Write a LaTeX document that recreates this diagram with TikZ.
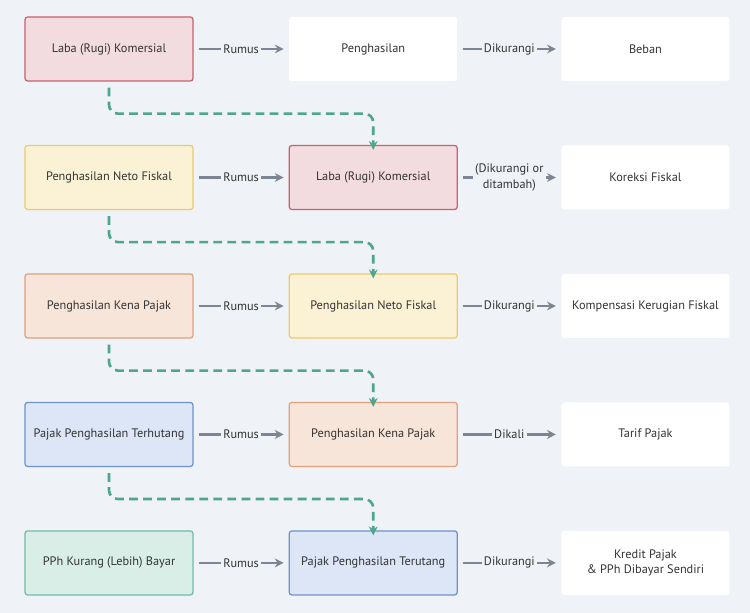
\documentclass[tikz,border=0pt]{standalone}
\usepackage{fontspec}
\setmainfont{PT Sans}
\usetikzlibrary{positioning,arrows.meta}

\definecolor{bgcol}{HTML}{EFF2F6}
\definecolor{txtcol}{HTML}{333333}
\definecolor{redfill}{HTML}{F2DCE0}
\definecolor{redline}{HTML}{C9616E}
\definecolor{yelfill}{HTML}{FBF2D6}
\definecolor{yelline}{HTML}{EDCB6A}
\definecolor{orafill}{HTML}{F8E5DA}
\definecolor{oraline}{HTML}{E0A07E}
\definecolor{blufill}{HTML}{DCE6F6}
\definecolor{bluline}{HTML}{6D93CE}
\definecolor{grnfill}{HTML}{DAEEE8}
\definecolor{grnline}{HTML}{6FBDA5}
\definecolor{arrcol}{HTML}{7C8593}
\definecolor{dashcol}{HTML}{4EA68F}

\begin{document}
\begin{tikzpicture}[every node/.style={align=center, font=\fontsize{7}{8.6}\selectfont, text=txtcol}, >=Stealth]
    % styles
    \tikzstyle{box} = [rectangle, rounded corners=1.5pt, line width=0.7pt, minimum width=3.36cm, minimum height=1.28cm]
    \tikzstyle{redbox} = [box, draw=redline, fill=redfill]
    \tikzstyle{yelbox} = [box, draw=yelline, fill=yelfill]
    \tikzstyle{orabox} = [box, draw=oraline, fill=orafill]
    \tikzstyle{blubox} = [box, draw=bluline, fill=blufill]
    \tikzstyle{grnbox} = [box, draw=grnline, fill=grnfill]
    \tikzstyle{plain} = [box, fill=white]
    \tikzstyle{arrow} = [draw=arrcol, line width=1.4pt, shorten <=0.1cm, shorten >=0.1cm, {-Stealth[length=5pt, width=5pt]}]
    \tikzstyle{lbl} = [fill=bgcol, inner sep=1.2pt]
    \tikzstyle{link} = [draw=dashcol, line width=1.5pt, dash pattern=on 5pt off 3pt, rounded corners=5pt, {-Stealth[length=5pt, width=5pt]}]

    \fill[bgcol] (0,0) rectangle (15,12.26);
    \useasboundingbox (0,0) rectangle (15,12.26);

    % row 1
    \node[redbox] (A1) at (2.18,11.28) {Laba (Rugi) Komersial};
    \node[plain, right=1.9cm of A1] (B1) {Penghasilan};
    \node[plain, right=2.06cm of B1] (C1) {Beban};

    % row 2
    \node[yelbox, below=1.265cm of A1] (A2) {Penghasilan Neto Fiskal};
    \node[redbox, right=1.9cm of A2] (B2) {Laba (Rugi) Komersial};
    \node[plain, right=2.06cm of B2] (C2) {Koreksi Fiskal};

    % row 3
    \node[orabox, below=1.265cm of A2] (A3) {Penghasilan Kena Pajak};
    \node[yelbox, right=1.9cm of A3] (B3) {Penghasilan Neto Fiskal};
    \node[plain, right=2.06cm of B3] (C3) {Kompensasi Kerugian Fiskal};

    % row 4
    \node[blubox, below=1.265cm of A3] (A4) {Pajak Penghasilan Terhutang};
    \node[orabox, right=1.9cm of A4] (B4) {Penghasilan Kena Pajak};
    \node[plain, right=2.06cm of B4] (C4) {Tarif Pajak};

    % row 5
    \node[grnbox, below=1.265cm of A4] (A5) {PPh Kurang (Lebih) Bayar};
    \node[blubox, right=1.9cm of A5] (B5) {Pajak Penghasilan Terutang};
    \node[plain, right=2.06cm of B5] (C5) {Kredit Pajak\\\& PPh Dibayar Sendiri};

    % arrows
    \foreach \r in {1,...,5}
        \draw[arrow] (A\r) -- node[lbl] {Rumus} (B\r);
    \draw[arrow] (B1) -- node[lbl] {Dikurangi} (C1);
    \draw[arrow] (B2) -- node[lbl] {(Dikurangi or\\ditambah)} (C2);
    \draw[arrow] (B3) -- node[lbl] {Dikurangi} (C3);
    \draw[arrow] (B4) -- node[lbl] {Dikali} (C4);
    \draw[arrow] (B5) -- node[lbl] {Dikurangi} (C5);

    % dashed links
    \foreach \r [count=\s from 2] in {1,...,4}
        \draw[link] ([yshift=-0.12cm]A\r.south) -- ++(0,-0.52) -| ([yshift=-0.1cm]B\s.north);
\end{tikzpicture}
\end{document}
